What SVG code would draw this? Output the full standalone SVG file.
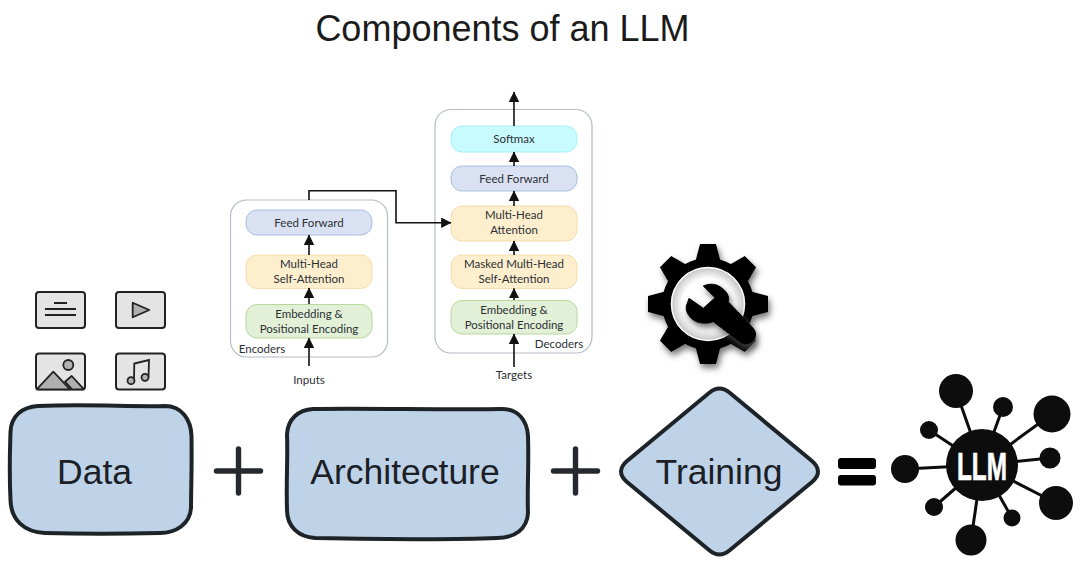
<svg xmlns="http://www.w3.org/2000/svg" width="1082" height="579" viewBox="0 0 1082 579">
<style>
text{font-family:"Liberation Sans",Arial,sans-serif}
.t{fill:#1b2026;font-size:35.5px;text-anchor:middle}
.sk{fill:#bed3e8;stroke:#1e2328;stroke-width:4;stroke-linejoin:round}
.op{stroke:#262a2e;stroke-width:5.400;stroke-linecap:round;fill:none}
.cont{fill:#fff;stroke:#b4bcc4;stroke-width:1.2}
.ff{fill:#d9e1f2;stroke:#a9bfe2;stroke-width:1}
.or{fill:#fdeecd;stroke:#f6dcae;stroke-width:1}
.gr{fill:#e3f0d8;stroke:#b6d89c;stroke-width:1}
.sm{fill:#c8fbff;stroke:#a6f0f6;stroke-width:1}
.l{font-family:Lato,"Noto Sans",sans-serif;font-size:11.500px;fill:#2c3034;text-anchor:middle}
.cn{fill:none;stroke:#111;stroke-width:1.6}
.ic{fill:#e4e4e4;stroke:#222;stroke-width:2}
.in{fill:none;stroke:#222;stroke-width:1.8}
.g{fill:#b0b0b0;stroke:#222;stroke-width:1.8;stroke-linejoin:round}
.net{stroke:#0d0d0d;stroke-width:3}
</style>
<defs>
<marker id="ah" viewBox="0 0 10 10" refX="9.500" refY="5" markerWidth="6.500" markerHeight="6.500" orient="auto"><path d="M0 0L10 5L0 10Z" fill="#111"/></marker>
<polygon id="tooth" points="-8,-60 8,-60 12.500,-43 -12.500,-43" fill="#000"/>
<filter id="sh" x="-20%" y="-20%" width="140%" height="140%"><feDropShadow dx="2" dy="4" stdDeviation="3" flood-color="#555" flood-opacity=".8"/></filter>
<radialGradient id="glow"><stop offset=".7" stop-color="#fff"/><stop offset="1" stop-color="#c4c4c4"/></radialGradient>
</defs>
<rect width="1082" height="579" fill="#fff"/>
<text id="title" x="502.500" y="41" font-size="36" text-anchor="middle" fill="#1b1b1b">Components of an LLM</text>

<g id="icon-text"><rect class="ic" x="36" y="292" width="49" height="36" rx="3"/><path class="in" d="M54 303H67M45 309H76M45 315H76"/></g>
<g id="icon-video"><rect class="ic" x="116" y="292" width="49" height="36" rx="3"/><path class="g" d="M132.700 302.700L149.300 310L132.700 317.300Z"/></g>
<g id="icon-image"><rect class="ic" x="36" y="353.500" width="49" height="36" rx="3"/><circle class="g" cx="68.300" cy="365" r="5"/><path class="g" d="M65 381.700L71.700 376L84 389.300H72Z"/><path class="g" d="M36.700 389.300L53.300 371.700L70 389.300Z"/></g>
<g id="icon-audio"><rect class="ic" x="116" y="353.500" width="49" height="36" rx="3"/><path class="in" d="M134 380L134.300 363.500L149 360L148.500 377"/><circle class="g" cx="131" cy="380.700" r="3.500"/><circle class="g" cx="145" cy="377.300" r="3.500"/></g>

<g id="encoders">
<rect class="cont" x="230.500" y="200" width="157" height="157" rx="16"/>
<text class="l" x="262" y="353">Encoders</text>
</g>
<g id="decoders">
<rect class="cont" x="435" y="109.500" width="157" height="243.500" rx="16"/>
<text class="l" x="559" y="347.500">Decoders</text>
</g>
<g id="enc-ff"><rect class="ff" x="246" y="210" width="126" height="25" rx="11"/><text class="l" x="309" y="226.500">Feed Forward</text></g>
<g id="enc-att"><rect class="or" x="246" y="255" width="126" height="33.500" rx="11"/><text class="l" x="309" y="268">Multi-Head</text><text class="l" x="309" y="283">Self-Attention</text></g>
<g id="enc-emb"><rect class="gr" x="246" y="304.500" width="126" height="33.500" rx="11"/><text class="l" x="309" y="318">Embedding &amp;</text><text class="l" x="309" y="333">Positional Encoding</text></g>
<g id="dec-soft"><rect class="sm" x="451" y="126" width="126" height="26" rx="11"/><text class="l" x="514" y="142.700">Softmax</text></g>
<g id="dec-ff"><rect class="ff" x="451" y="166" width="126" height="25" rx="11"/><text class="l" x="514" y="182.700">Feed Forward</text></g>
<g id="dec-att"><rect class="or" x="451" y="206" width="126" height="35" rx="11"/><text class="l" x="514" y="218.700">Multi-Head</text><text class="l" x="514" y="234">Attention</text></g>
<g id="dec-mask"><rect class="or" x="451" y="255" width="126" height="33.500" rx="11"/><text class="l" x="514" y="267.700">Masked Multi-Head</text><text class="l" x="514" y="282.700">Self-Attention</text></g>
<g id="dec-emb"><rect class="gr" x="451" y="300.500" width="126" height="33.500" rx="11"/><text class="l" x="514" y="314">Embedding &amp;</text><text class="l" x="514" y="329">Positional Encoding</text></g>
<text id="inputs" class="l" x="309" y="384">Inputs</text>
<text id="targets" class="l" x="514" y="378.500">Targets</text>

<g id="connectors">
<path class="cn" marker-end="url(#ah)" d="M309 366V338"/>
<path class="cn" marker-end="url(#ah)" d="M309 304V288"/>
<path class="cn" marker-end="url(#ah)" d="M309 255V235"/>
<path class="cn" marker-end="url(#ah)" d="M514 367V334"/>
<path class="cn" marker-end="url(#ah)" d="M514 300V288.500"/>
<path class="cn" marker-end="url(#ah)" d="M514 255V241"/>
<path class="cn" marker-end="url(#ah)" d="M514 206V191"/>
<path class="cn" marker-end="url(#ah)" d="M514 166V152"/>
<path class="cn" marker-end="url(#ah)" d="M514 126V92"/>
<path class="cn" marker-end="url(#ah)" d="M309 200V190.700H396V222.700H451"/>
</g>

<g id="gear">
<g filter="url(#sh)"><circle cx="708" cy="304" r="46" fill="#000"/>
<use href="#tooth" transform="translate(708 304)"/>
<use href="#tooth" transform="translate(708 304) rotate(45)"/>
<use href="#tooth" transform="translate(708 304) rotate(90)"/>
<use href="#tooth" transform="translate(708 304) rotate(135)"/>
<use href="#tooth" transform="translate(708 304) rotate(180)"/>
<use href="#tooth" transform="translate(708 304) rotate(225)"/>
<use href="#tooth" transform="translate(708 304) rotate(270)"/>
<use href="#tooth" transform="translate(708 304) rotate(315)"/></g>
<circle cx="708" cy="304" r="36.500" fill="url(#glow)" stroke="#fff" stroke-width="1.500"/>
<path filter="url(#sh)" fill="#000" stroke="#000" stroke-linejoin="round" d="M703.300 286C710 283 716 284 720 286.700C727 291 730 297 728.300 301.700L753.300 328.300C757 333 756 339 752 342C748 345 743 345 740 342L713.300 321.700C707 324 699 324 693.300 320C688 316 685 310 686.700 305L689 298.300L703.300 308.300L715 297.700Z"/>
</g>

<g id="data"><path class="sk" d="M38 406C90 404 130 407 165 406C182 406 191 420 191.500 436C192 470 191 490 191 508C190 524 176 533 160 533C120 534 80 534 45 533C24 532 11 520 10.500 500C9 470 10 450 10.500 432C11 416 22 407 38 406Z"/><text class="t" x="94.500" y="484">Data</text></g>
<path id="plus1" class="op" d="M216.500 471H260.500M238.500 449V493"/>
<g id="architecture"><path class="sk" d="M313 409C360 408 450 410 502 409C518 409 527 420 528 436C529 470 527 490 528 513C527 529 515 538 497 538C450 540 370 539 315 538C298 537 287 526 287 510C286 480 288 460 287 434C288 419 298 410 313 409Z"/><text class="t" x="405" y="484">Architecture</text></g>
<path id="plus2" class="op" d="M553.500 471H597.500M575.500 449V493"/>
<g id="training"><path class="sk" d="M627 461L709 393Q719.500 384 730 393L812 461Q824 471.500 812 482L730 550Q719.500 559 709 550L627 482Q615 471.500 627 461Z"/><text class="t" x="719" y="484">Training</text></g>
<g id="equals" fill="#000"><rect x="838" y="458" width="38" height="11" rx="3"/><rect x="838" y="475" width="38" height="10.500" rx="3"/></g>

<g id="llm">
<g class="net" fill="none">
<line x1="982" y1="465" x2="956" y2="391"/><line x1="982" y1="465" x2="1003" y2="407"/><line x1="982" y1="465" x2="1052" y2="414"/><line x1="982" y1="465" x2="929" y2="430"/><line x1="982" y1="465" x2="1050" y2="458"/><line x1="982" y1="465" x2="905" y2="469"/><line x1="982" y1="465" x2="1056" y2="503"/><line x1="982" y1="465" x2="934" y2="507"/><line x1="982" y1="465" x2="1012" y2="518"/><line x1="982" y1="465" x2="971" y2="540"/>
</g>
<g fill="#0d0d0d">
<circle cx="982" cy="465" r="36"/><circle cx="956" cy="391" r="17"/><circle cx="1003" cy="407" r="10"/><circle cx="1052" cy="414" r="18.500"/><circle cx="929" cy="430" r="9"/><circle cx="1050" cy="458" r="10.500"/><circle cx="905" cy="469" r="14"/><circle cx="1056" cy="503" r="17"/><circle cx="934" cy="507" r="9"/><circle cx="1012" cy="518" r="8.500"/><circle cx="971" cy="540" r="15.500"/>
</g>
<text x="957" y="480" font-size="39" font-weight="bold" fill="#fff" stroke="#fff" stroke-width=".7" textLength="50" lengthAdjust="spacingAndGlyphs">LLM</text>
</g>
</svg>
